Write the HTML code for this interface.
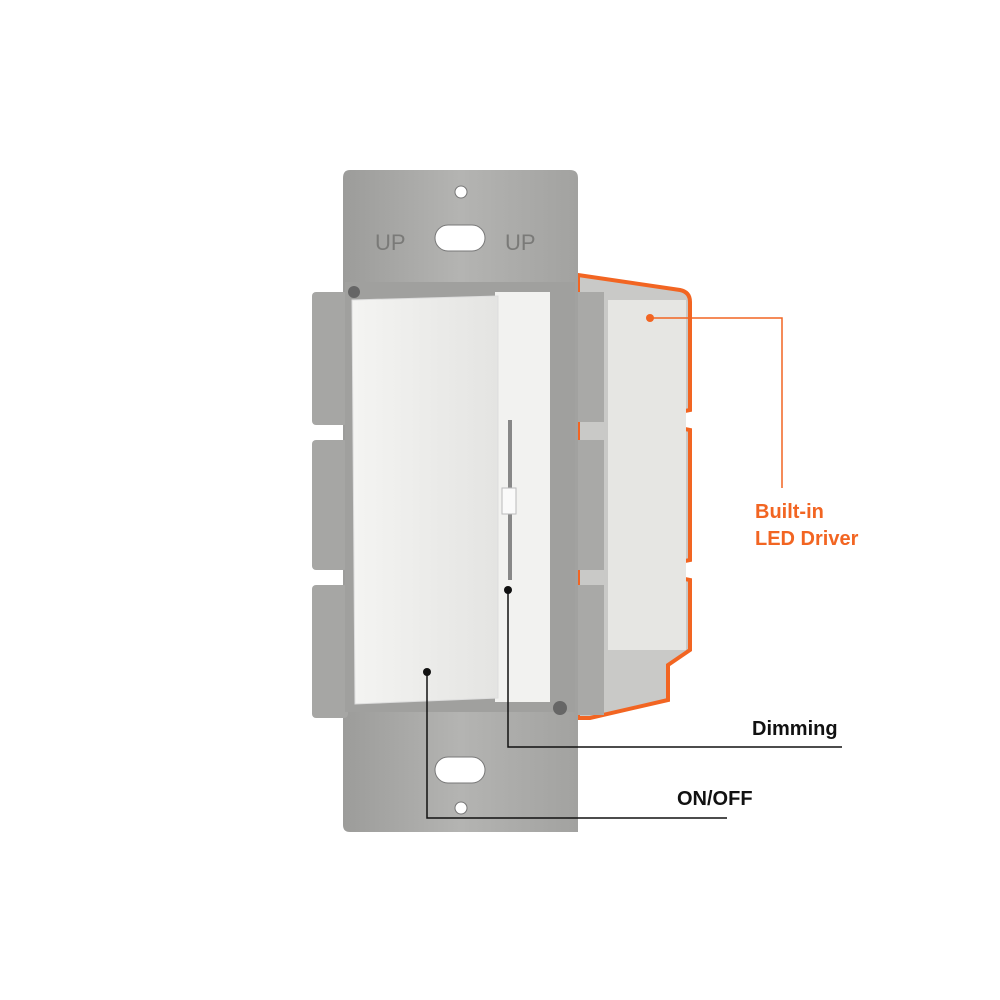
<!DOCTYPE html>
<html><head><style>
body{margin:0;width:1000px;height:1000px;background:#fff;position:relative;overflow:hidden;font-family:"Liberation Sans",sans-serif}
.t{position:absolute;font-weight:bold;font-size:20px}
</style></head><body>
<svg width="1000" height="1000" style="position:absolute;left:0;top:0">
<defs>
<linearGradient id="m" x1="0" x2="1"><stop offset="0" stop-color="#9c9c9a"/><stop offset=".5" stop-color="#b4b4b2"/><stop offset="1" stop-color="#a2a2a0"/></linearGradient>
<linearGradient id="w" x1="0" x2="1"><stop offset="0" stop-color="#f4f4f2"/><stop offset="1" stop-color="#e4e4e2"/></linearGradient>
</defs>
<path d="M578 275 L680 290 Q690 292 690 302 L690 410 L680 412 L680 428 L690 430 L690 560 L680 562 L680 578 L690 580 L690 650 L668 665 L668 700 L590 718 L578 718 Z" fill="#c9c9c7" stroke="#f26522" stroke-width="4"/>
<rect x="608" y="300" width="78" height="350" fill="#e6e6e3"/>
<path d="M350 170 L570 170 Q578 170 578 178 L578 832 L350 832 Q343 832 343 825 L343 178 Q343 170 350 170 Z" fill="url(#m)"/>
<rect x="312" y="292" width="36" height="133" rx="4" fill="#a6a6a4"/>
<rect x="312" y="440" width="36" height="130" rx="4" fill="#a6a6a4"/>
<rect x="312" y="585" width="36" height="133" rx="4" fill="#a6a6a4"/>
<rect x="578" y="292" width="26" height="130" fill="#a9a9a7"/>
<rect x="578" y="440" width="26" height="130" fill="#a9a9a7"/>
<rect x="578" y="585" width="26" height="130" fill="#a9a9a7"/>
<rect x="345" y="282" width="230" height="430" fill="#a0a09e"/>
<rect x="435" y="225" width="50" height="26" rx="13" fill="#fff" stroke="#777"/>
<rect x="435" y="757" width="50" height="26" rx="13" fill="#fff" stroke="#777"/>
<circle cx="461" cy="192" r="6" fill="#fff" stroke="#777"/>
<circle cx="461" cy="808" r="6" fill="#fff" stroke="#777"/>
<circle cx="354" cy="292" r="6" fill="#666"/><circle cx="560" cy="708" r="7" fill="#666"/>
<text x="375" y="250" font-size="22" fill="#7a7a78" font-family="Liberation Sans">UP</text>
<text x="505" y="250" font-size="22" fill="#7a7a78" font-family="Liberation Sans">UP</text>
<rect x="495" y="292" width="55" height="410" fill="#f2f2f0"/>
<path d="M352 300 L498 296 L498 698 L355 704 Z" fill="url(#w)" stroke="#ddd"/>
<rect x="508" y="420" width="4" height="160" fill="#888"/>
<rect x="502" y="488" width="14" height="26" fill="#fafafa" stroke="#bbb"/>
<g fill="none" stroke="#111" stroke-width="1.5">
<path d="M427 672 V818 H727"/>
<path d="M508 590 V747 H842"/>
</g>
<circle cx="427" cy="672" r="4" fill="#111"/>
<circle cx="508" cy="590" r="4" fill="#111"/>
<path d="M650 318 H782 V488" fill="none" stroke="#f26522" stroke-width="1.5"/>
<circle cx="650" cy="318" r="4" fill="#f26522"/>
</svg>
<div class="t" style="left:752px;top:718px;color:#111">Dimming</div>
<div class="t" style="left:677px;top:788px;color:#111">ON/OFF</div>
<div class="t" style="left:755px;top:499px;color:#f26522;line-height:27px">Built-in<br>LED Driver</div>
</body></html>
